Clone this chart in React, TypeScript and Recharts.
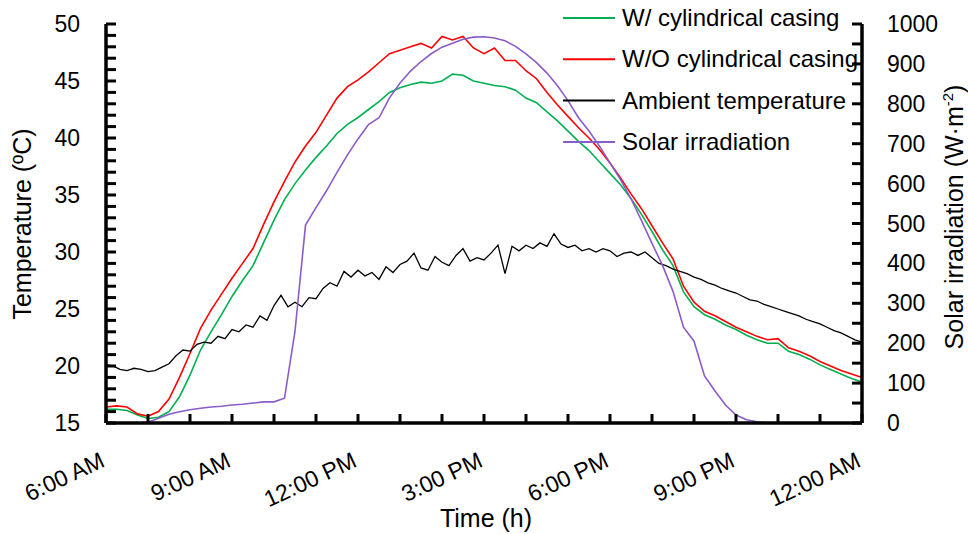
import { LineChart, Line, XAxis, YAxis } from 'recharts';

// ─── Data (time in hours after 6:00 AM) ──────────────────────────────────────
// red / green / solar sampled every 15 min, ambient every 10 min
const withoutCasing = [
  16.4, 16.5, 16.4, 15.8, 15.6, 16.0, 17.1, 19.0, 21.1, 23.3,
  24.9, 26.3, 27.7, 29.0, 30.3, 32.4, 34.4, 36.2, 37.9, 39.3,
  40.5, 42.0, 43.5, 44.5, 45.1, 45.8, 46.6, 47.4, 47.7, 48.0,
  48.3, 47.9, 48.9, 48.6, 48.9, 47.9, 47.4, 47.9, 46.8, 46.8,
  45.9, 45.2, 44.0, 42.9, 41.9, 40.9, 40.0, 39.0, 37.8, 36.5,
  35.1, 33.8, 32.3, 30.8, 29.4, 27.0, 25.6, 24.8, 24.4, 23.9,
  23.4, 23.0, 22.6, 22.3, 22.4, 21.6, 21.3, 20.9, 20.4, 20.0,
  19.6, 19.3, 19.0,
];

const withCasing = [
  16.2, 16.2, 16.1, 15.7, 15.4, 15.5, 16.0, 17.3, 19.2, 21.4,
  23.0, 24.5, 26.1, 27.5, 28.8, 30.8, 32.8, 34.6, 36.0, 37.2,
  38.3, 39.3, 40.4, 41.2, 41.8, 42.5, 43.2, 44.0, 44.4, 44.7,
  44.9, 44.8, 45.0, 45.6, 45.5, 45.0, 44.8, 44.6, 44.5, 44.2,
  43.5, 43.1, 42.3, 41.5, 40.6, 39.7, 38.9, 37.9, 36.9, 35.9,
  34.7, 33.3, 31.8, 30.2, 28.8, 26.5, 25.2, 24.5, 24.1, 23.6,
  23.2, 22.7, 22.3, 22.0, 22.0, 21.3, 21.0, 20.6, 20.1, 19.7,
  19.3, 18.9, 18.6,
];

const solarIrradiation = [
  0, 0, 0, 0, 2, 12, 22, 28, 33, 37,
  40, 42, 45, 47, 50, 53, 53, 62, 230, 496,
  540, 582, 628, 672, 712, 748, 765, 815, 852, 882,
  906, 926, 942, 952, 962, 967, 968, 965, 958, 944,
  925, 903, 877, 845, 808, 765, 732, 694, 652, 610,
  562, 507, 450, 395, 330, 240, 205, 118, 80, 45,
  20, 8, 3, 0, 0, 0, 0, 0, 0, 0,
  0, 0, 0,
];

const ambient = [
  20.1, 20.0, 19.7, 19.6, 19.8, 19.7, 19.5, 19.6, 19.9, 20.2,
  20.9, 21.4, 21.3, 21.9, 22.1, 22.0, 22.6, 22.4, 23.2, 23.0,
  23.6, 23.4, 24.4, 24.0, 25.3, 26.2, 25.2, 25.6, 25.2, 26.0,
  25.9, 26.8, 27.3, 27.0, 28.3, 27.8, 28.4, 27.9, 28.2, 27.6,
  28.7, 28.2, 28.9, 29.2, 29.9, 28.6, 28.4, 29.6, 29.1, 28.8,
  29.7, 30.3, 29.2, 29.5, 29.3, 29.9, 30.6, 28.1, 30.5, 30.1,
  30.6, 30.3, 30.8, 30.5, 31.6, 30.7, 30.4, 30.6, 30.1, 30.3,
  30.0, 30.3, 30.1, 29.6, 29.9, 30.0, 29.7, 30.0, 29.5, 29.0,
  28.8, 28.5, 28.3, 28.1, 27.8, 27.6, 27.3, 27.1, 26.8, 26.6,
  26.4, 26.1, 25.8, 25.7, 25.4, 25.2, 25.0, 24.8, 24.6, 24.4,
  24.1, 23.9, 23.7, 23.4, 23.1, 22.9, 22.6, 22.3, 22.1,
];

const hourTicks = [0, 1, 2, 3, 4, 5, 6, 7, 8, 9, 10, 11, 12, 13, 14, 15, 16, 17, 18];
const hourLabels: Record<number, string> = {
  0: '6:00 AM', 3: '9:00 AM', 6: '12:00 PM', 9: '3:00 PM', 12: '6:00 PM', 15: '9:00 PM', 18: '12:00 AM',
};
const tempTicks = Array.from({ length: 36 }, (_, i) => 15 + i);
const solarTicks = Array.from({ length: 21 }, (_, i) => i * 50);

const seriesNames = ['W/ cylindrical casing', 'W/O cylindrical casing', 'Ambient temperature', 'Solar irradiation'];
const seriesColors = ['#00b050', '#ff0000', '#000000', '#8b5cc9'];

const toPoints = (vals: number[], step: number) => vals.map((v, i) => ({ h: i * step, v }));
const greenData = toPoints(withCasing, 0.25);
const redData = toPoints(withoutCasing, 0.25);
const solarData = toPoints(solarIrradiation, 0.25);
const ambientData = toPoints(ambient, 1 / 6);

// ─── Layout ──────────────────────────────────────────────────────────────────
const W = 968;
const H = 534;
const PLOT_TOP = 24;
const FONT = '"Liberation Sans", Arial, sans-serif';
const TICK_LINE = { stroke: '#000', strokeWidth: 3 };
const AXIS_LINE = { stroke: '#000', strokeWidth: 3.5 };

function LeftTick({ y, payload }: any) {
  const v = payload.value as number;
  if (v % 5 !== 0) return <g />;
  return (
    <text x={80} y={y + 8} textAnchor="end" fontSize={23} fill="#000" fontFamily={FONT}>{v}</text>
  );
}

function RightTick({ y, payload }: any) {
  const v = payload.value as number;
  if (v % 100 !== 0) return <g />;
  return (
    <text x={887} y={y + 8} textAnchor="start" fontSize={23} fill="#000" fontFamily={FONT}>{v}</text>
  );
}

function BottomTick({ x, payload }: any) {
  const label = hourLabels[payload.value as number];
  const ty = 466;
  if (!label) return <g />;
  return (
    <text x={x} y={ty} textAnchor="end" fontSize={23} fill="#000" fontFamily={FONT}
      transform={`rotate(-25, ${x}, ${ty})`}>{label}</text>
  );
}

export default function App() {
  return (
    <div style={{ position: 'absolute', left: 0, top: 0, width: W, height: H, background: '#fff', fontFamily: FONT }}>
      <LineChart width={W} height={H} margin={{ top: PLOT_TOP, right: 46, bottom: 31, left: 46 }}>
        <XAxis type="number" dataKey="h" domain={[0, 18]} ticks={hourTicks} interval={0}
          tick={<BottomTick />} tickLine={TICK_LINE} tickSize={-9} height={80}
          axisLine={AXIS_LINE} allowDuplicatedCategory={false} />
        <YAxis yAxisId="left" domain={[15, 50]} ticks={tempTicks} interval={0} width={60}
          tick={<LeftTick />} tickLine={TICK_LINE} tickSize={-10} axisLine={AXIS_LINE} />
        <YAxis yAxisId="right" orientation="right" domain={[0, 1000]} ticks={solarTicks} interval={0} width={60}
          tick={<RightTick />} tickLine={TICK_LINE} tickSize={-10} axisLine={AXIS_LINE} />
        <Line yAxisId="left" data={greenData} dataKey="v" name={seriesNames[0]} stroke={seriesColors[0]}
          strokeWidth={1.6} dot={false} isAnimationActive={false} />
        <Line yAxisId="left" data={redData} dataKey="v" name={seriesNames[1]} stroke={seriesColors[1]}
          strokeWidth={1.6} dot={false} isAnimationActive={false} />
        <Line yAxisId="left" data={ambientData} dataKey="v" name={seriesNames[2]} stroke={seriesColors[2]}
          strokeWidth={1.3} dot={false} isAnimationActive={false} />
        <Line yAxisId="right" data={solarData} dataKey="v" name={seriesNames[3]} stroke={seriesColors[3]}
          strokeWidth={1.6} dot={false} isAnimationActive={false} />
      </LineChart>

      {/* legend and axis titles */}
      <svg width={W} height={H} style={{ position: 'absolute', left: 0, top: 0, pointerEvents: 'none' }}>
        {seriesNames.map((name, i) => {
          const cy = 18 + i * 41.3;
          return (
            <g key={name}>
              <line x1={563} x2={615} y1={cy} y2={cy} stroke={seriesColors[i]} strokeWidth={2} />
              <text x={622} y={cy + 8} fontSize={24} fill="#000" fontFamily={FONT}>{name}</text>
            </g>
          );
        })}
        <text x={31} y={224} fontSize={25} textAnchor="middle" fontFamily={FONT}
          transform="rotate(-90, 31, 224)">Temperature (ºC)</text>
        <text x={963} y={217} fontSize={25} textAnchor="middle" fontFamily={FONT}
          transform="rotate(-90, 963, 217)">
          Solar irradiation (W·m<tspan fontSize={15} dy={-10}>-2</tspan><tspan dy={10}>)</tspan>
        </text>
        <text x={486} y={527} fontSize={25} textAnchor="middle" fontFamily={FONT}>Time (h)</text>
      </svg>
    </div>
  );
}
